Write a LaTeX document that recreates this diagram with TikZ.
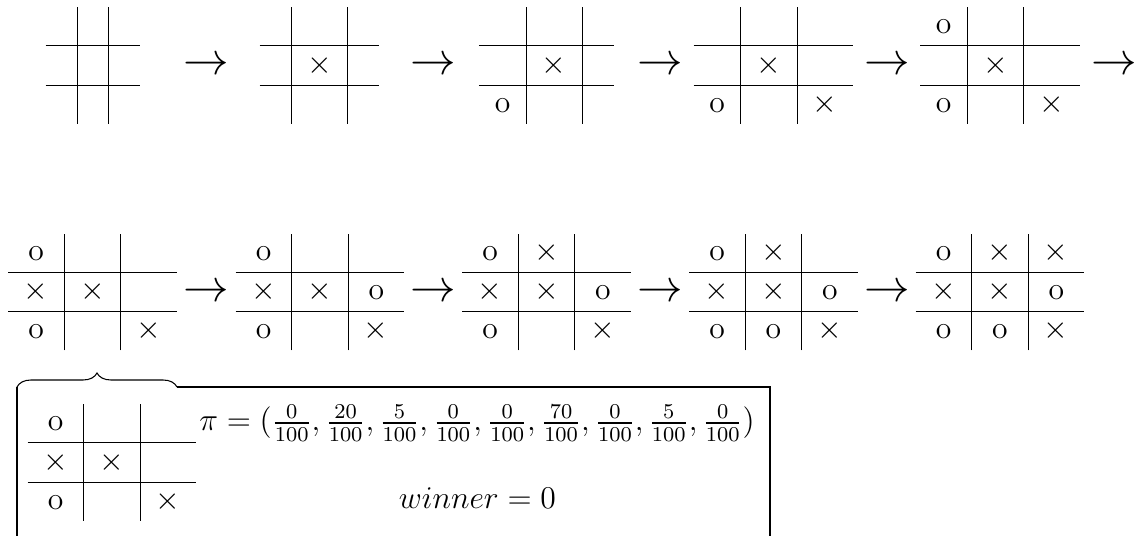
\documentclass[tikz,border=0pt,12pt]{standalone}
\usepackage{amsmath,amssymb}
\usetikzlibrary{decorations.pathreplacing}
\newcommand{\xm}{$\times$}
\newcommand{\om}{o}

\begin{document}
\begin{tikzpicture}[
  x=0.379pt, y=0.379pt,
  board/.style={inner sep=0pt},
  arr/.style={inner sep=0pt, anchor=base, font=\Large},
  brace/.style={decorate, decoration={brace, amplitude=5.3pt}},
  note/.style={inner sep=0pt, anchor=base},
]
\useasboundingbox (0,0) rectangle (1135,-536);
\clip (0,0) rectangle (1135,-536);

% ---- first row of boards ----
\node[board] (b1) at (93,-65.5)
  {\begin{tabular}{c|c|c} & & \\ \hline & & \\ \hline & & \end{tabular}};
\node[board] (b2) at (319.5,-65.5)
  {\begin{tabular}{c|c|c} & & \\ \hline & \xm & \\ \hline & & \end{tabular}};
\node[board] (b3) at (546.5,-65.5)
  {\begin{tabular}{c|c|c} & & \\ \hline & \xm & \\ \hline \om & & \end{tabular}};
\node[board] (b4) at (773.5,-65.5)
  {\begin{tabular}{c|c|c} & & \\ \hline & \xm & \\ \hline \om & & \xm \end{tabular}};
\node[board] (b5) at (1000,-65.5)
  {\begin{tabular}{c|c|c} \om & & \\ \hline & \xm & \\ \hline \om & & \xm \end{tabular}};

% ---- second row of boards ----
\node[board] (b6) at (92.5,-292)
  {\begin{tabular}{c|c|c} \om & & \\ \hline \xm & \xm & \\ \hline \om & & \xm \end{tabular}};
\node[board] (b7) at (320,-292)
  {\begin{tabular}{c|c|c} \om & & \\ \hline \xm & \xm & \om \\ \hline \om & & \xm \end{tabular}};
\node[board] (b8) at (546.5,-292)
  {\begin{tabular}{c|c|c} \om & \xm & \\ \hline \xm & \xm & \om \\ \hline \om & & \xm \end{tabular}};
\node[board] (b9) at (773.5,-292)
  {\begin{tabular}{c|c|c} \om & \xm & \\ \hline \xm & \xm & \om \\ \hline \om & \om & \xm \end{tabular}};
\node[board] (b10) at (1000,-292)
  {\begin{tabular}{c|c|c} \om & \xm & \xm \\ \hline \xm & \xm & \om \\ \hline \om & \om & \xm \end{tabular}};

% ---- moves between boards ----
\foreach \i in {1,...,5}
  \node[arr] (m\i) at (-21+227*\i, -74.5) {$\rightarrow$};
\foreach \i in {1,...,4}
  \node[arr] (n\i) at (-21+227*\i, -301.5) {$\rightarrow$};

% ---- detail box under the sixth board ----
\coordinate (bl) at (17,-387);
\coordinate (br) at (177,-387);
\coordinate (bll) at (17,-560);
\coordinate (brr) at (770,-387);
\coordinate (brd) at (770,-560);
\draw[brace] (bl) -- (br);
\draw (bl) -- (bll);
\draw (br) -- (brr) -- (brd);

\node[board] (b11) at (112,-462.5)
  {\begin{tabular}{c|c|c} \om & & \\ \hline \xm & \xm & \\ \hline \om & & \xm \end{tabular}};
\node[note] (pi) at (477,-431)
  {$\pi = (\frac{0}{100}, \frac{20}{100}, \frac{5}{100}, \frac{0}{100}, \frac{0}{100}, \frac{70}{100}, \frac{0}{100}, \frac{5}{100}, \frac{0}{100})$};
\node[note] (win) at (477.5,-509) {$winner = 0$};

\end{tikzpicture}
\end{document}
